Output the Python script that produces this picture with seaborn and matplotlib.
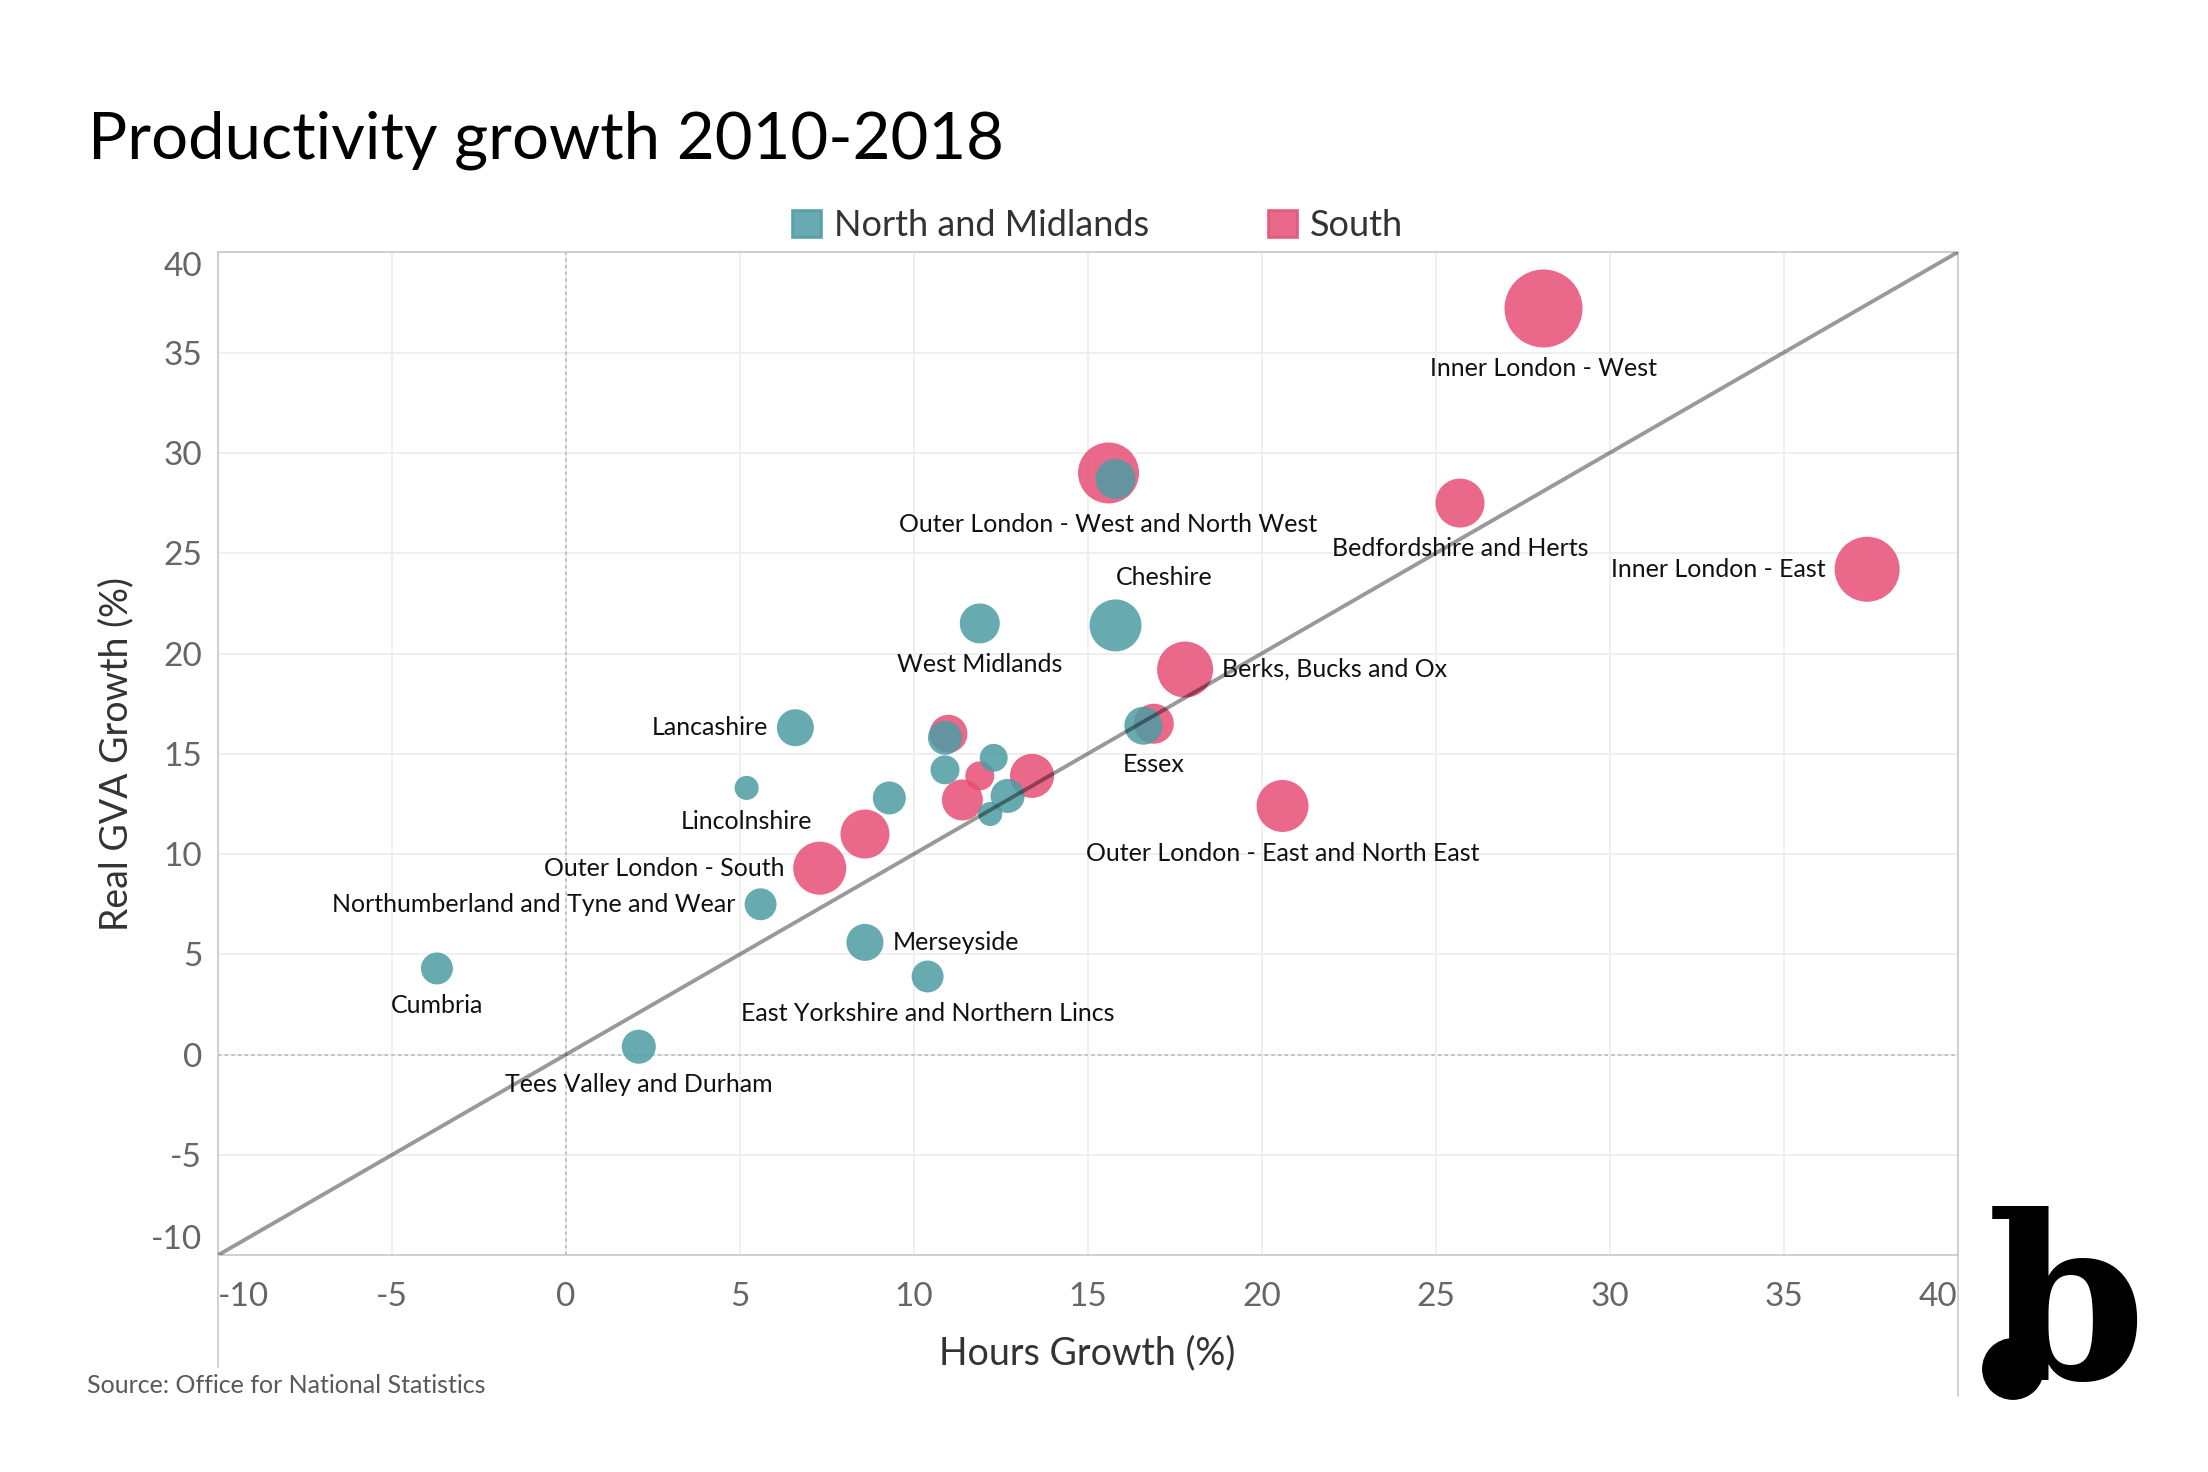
import numpy as np
import pandas as pd
import matplotlib.pyplot as plt
import seaborn as sns
from matplotlib.patches import Patch, Circle
from matplotlib.lines import Line2D

# values (South listed first so the teal bubbles sit on top)
regions = [
    "Inner London - West", "Outer London - West and North West", "Bedfordshire and Herts",
    "Inner London - East", "Berks, Bucks and Ox", "Essex", "Outer London - East and North East",
    "", "", "", "", "", "Outer London - South",
    "", "West Midlands", "Cheshire", "Lancashire", "", "", "", "", "", "",
    "Lincolnshire", "", "Northumberland and Tyne and Wear", "Merseyside",
    "East Yorkshire and Northern Lincs", "Cumbria", "Tees Valley and Durham",
]
group = ["South"] * 13 + ["North and Midlands"] * 17
hours_growth = [
    28.1, 15.6, 25.7, 37.4, 17.8, 16.9, 20.6, 11.0, 11.9, 13.4, 11.4, 8.6, 7.3,
    15.8, 11.9, 15.8, 6.6, 10.9, 10.9, 12.3, 12.7, 12.2, 9.3, 5.2, 16.6, 5.6, 8.6,
    10.4, -3.7, 2.1,
]
gva_growth = [
    37.2, 29.0, 27.5, 24.2, 19.2, 16.5, 12.4, 16.0, 13.9, 13.9, 12.7, 11.0, 9.3,
    28.7, 21.5, 21.4, 16.3, 15.8, 14.2, 14.8, 12.9, 12.0, 12.8, 13.3, 16.4, 7.5, 5.6,
    3.9, 4.3, 0.4,
]
bubble_size = [
    60.8, 37.2, 24.0, 42.3, 31.4, 16.0, 27.0, 14.4, 8.4, 19.4, 16.8, 24.0, 28.1,
    16.0, 16.0, 27.0, 13.7, 11.6, 8.4, 7.8, 11.6, 5.8, 10.9, 5.8, 14.4, 10.2, 13.7,
    10.2, 10.2, 11.6,
]
label_place = {
    "Inner London - West": "below",
    "Outer London - West and North West": "below",
    "Bedfordshire and Herts": "below",
    "Inner London - East": "left",
    "Berks, Bucks and Ox": "right",
    "Essex": "below",
    "Outer London - East and North East": "below",
    "Outer London - South": "left",
    "West Midlands": "below",
    "Cheshire": "upright",
    "Lancashire": "left",
    "Lincolnshire": "below",
    "Northumberland and Tyne and Wear": "left",
    "Merseyside": "right",
    "East Yorkshire and Northern Lincs": "below",
    "Cumbria": "below",
    "Tees Valley and Durham": "below",
}

df = pd.DataFrame({"region": regions, "group": group, "hours": hours_growth,
                   "gva": gva_growth, "size": bubble_size})

sns.set_theme(style="white")
plt.rcParams["font.family"] = ["Lato", "DejaVu Sans"]
plt.rcParams["axes.unicode_minus"] = False

fig = plt.figure(figsize=(11.04, 7.36), dpi=200)
ax = fig.add_axes([0.0986, 0.1472, 0.788, 0.6814])

palette = {"North and Midlands": "#4C9DA3", "South": "#E74E76"}
size_max = 61
area_per_unit = 12.96  # pt^2 per size unit
sns.scatterplot(data=df, x="hours", y="gva", hue="group", size="size",
                sizes=(0, area_per_unit * size_max), size_norm=(0, size_max),
                palette=palette, alpha=0.85, linewidth=0, legend=False, ax=ax, zorder=3)

ax.axline((0, 0), slope=1, color="black", alpha=0.4, lw=1.4, zorder=4)
ax.axhline(0, color="#bbbbbb", ls=(0, (2, 2)), lw=0.6, zorder=2)
ax.axvline(0, color="#bbbbbb", ls=(0, (2, 2)), lw=0.6, zorder=2)

ax.set_xlim(-10, 40)
ax.set_ylim(-10, 40)
ticks = list(range(-10, 41, 5))
ax.set_xticks(ticks)
ax.set_yticks(ticks)
ax.grid(True, color="#efefef", lw=0.7)
ax.set_axisbelow(True)
for s in ax.spines.values():
    s.set_color("#c8c8c8")
    s.set_linewidth(0.6)
ax.tick_params(length=3.6, width=0.7, color="#e8e8e8", labelsize=12, labelcolor="#666666")
ax.tick_params(axis="x", pad=6)
ax.tick_params(axis="y", pad=2)
xl = ax.get_xticklabels()
xl[0].set_ha("left")
xl[-1].set_ha("right")
yl = ax.get_yticklabels()
yl[0].set_va("bottom")
yl[-1].set_va("top")

ax.set_xlabel("Hours Growth (%)", fontsize=13.5, color="#333333", va="center")
ax.set_ylabel("Real GVA Growth (%)", fontsize=13.5, color="#333333", va="center")
ax.xaxis.set_label_coords(0.5, -0.0974)
ax.yaxis.set_label_coords(-0.058, 0.5)

# point labels, offset from the bubble edge
for _, row in df.iterrows():
    place = label_place.get(row["region"])
    if not place:
        continue
    r = np.sqrt(area_per_unit * row["size"]) / 2
    if place == "below":
        off, ha = (0, -(r + 7.6)), "center"
    elif place == "left":
        off, ha = (-(r + 3.3), 0), "right"
    elif place == "right":
        off, ha = (r + 3.3, 0), "left"
    else:
        off, ha = (17.6, 17.3), "center"
    ax.annotate(row["region"], (row["hours"], row["gva"]), xytext=off,
                textcoords="offset points", ha=ha, va="center",
                fontsize=9, color="#111111", zorder=5)

fig.text(88 / 2208, 1 - 158 / 1472, "Productivity growth 2010-2018",
         fontsize=23.5, color="black", va="baseline", ha="left")

handles = [Patch(color=palette[g], alpha=0.85) for g in ["North and Midlands", "South"]]
fig.legend(handles, ["North and Midlands", "South"], loc="center left",
           bbox_to_anchor=(792 / 2208, 1 - 225.5 / 1472), ncol=2, frameon=False,
           fontsize=13, labelcolor="#333333", handlelength=0.8, handleheight=0.8,
           handletextpad=0.35, columnspacing=3.3, borderpad=0, borderaxespad=0)

fig.text(87 / 2208, 1 - 1393 / 1472, "Source: Office for National Statistics",
         fontsize=9, color="#595959", va="baseline", ha="left")

# frame lines under the x axis
for x0, y1 in [(218, 1367), (1958, 1396)]:
    fig.add_artist(Line2D([x0 / 2208] * 2, [1 - 1255 / 1472, 1 - y1 / 1472],
                          color="#c8c8c8", lw=0.6))

# logo
fig.text(1987 / 2208, 1 - 1380 / 1472, "b", fontfamily="DejaVu Serif",
         fontweight="bold", fontsize=82, color="black", va="baseline", ha="left")
fig.add_artist(Circle((2013 / 200, (1472 - 1369) / 200), 0.165,
                      transform=fig.dpi_scale_trans, facecolor="black",
                      edgecolor="white", lw=1.5))

fig.savefig("out.png", dpi=200)
